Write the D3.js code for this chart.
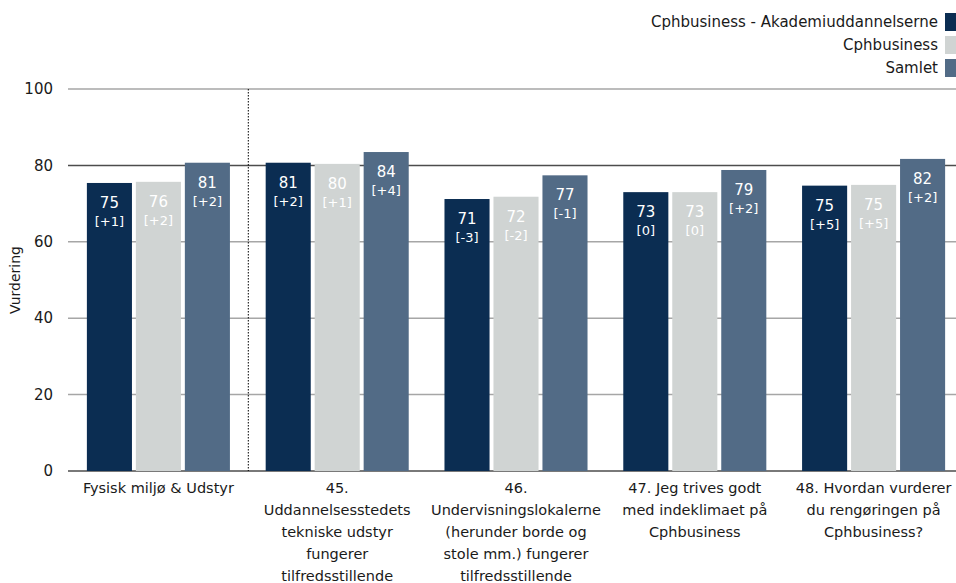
<!DOCTYPE html>
<html lang="da">
<head>
<meta charset="UTF-8">
<script src="https://d3js.org/d3.v7.min.js"></script>
<title>Vurdering</title>
<style>
  body { margin: 0; background: #fff; }
  svg { font-family: Tahoma, "DejaVu Sans", sans-serif; }
  .grid line { stroke: #a6a6a6; stroke-width: 1.5px; }
  .grid line.dark { stroke: #4d4d4d; }
</style>
</head>
<body>
<div id="chart"></div>
<script>
// data
var categories = [
  ["Fysisk miljø & Udstyr"],
  ["45.", "Uddannelsesstedets", "tekniske udstyr", "fungerer", "tilfredsstillende"],
  ["46.", "Undervisningslokalerne", "(herunder borde og", "stole mm.) fungerer", "tilfredsstillende"],
  ["47. Jeg trives godt", "med indeklimaet på", "Cphbusiness"],
  ["48. Hvordan vurderer", "du rengøringen på", "Cphbusiness?"]
];
var series = ["Cphbusiness - Akademiuddannelserne", "Cphbusiness", "Samlet"];
var colors = ["#0b2d52", "#d0d4d3", "#526b86"];
var akademi = [75.4, 80.7, 71.2, 73.0, 74.7];
var cph     = [75.7, 80.4, 71.8, 73.0, 74.9];
var samlet  = [80.7, 83.5, 77.4, 78.8, 81.7];
var akademiDiff = ["+1", "+2", "-3", "0", "+5"];
var cphDiff     = ["+2", "+1", "-2", "0", "+5"];
var samletDiff  = ["+2", "+4", "-1", "+2", "+2"];
var yTicks = [0, 20, 40, 60, 80, 100];

var values = [akademi, cph, samlet];
var diffs = [akademiDiff, cphDiff, samletDiff];

var W = 956, H = 583;
var svg = d3.select("#chart").append("svg").attr("width", W).attr("height", H);

var x0 = d3.scaleBand().domain(d3.range(categories.length)).range([69, 963]).padding(0);
var bw = x0.bandwidth();
var x1 = d3.scaleBand().domain(d3.range(series.length)).range([0.1 * bw, 0.9 * bw]).paddingInner(0.08);
var y = d3.scaleLinear().domain([0, 100]).range([471, 89]);

// gridlines
var grid = svg.append("g").attr("class", "grid");
grid.selectAll("line").data(yTicks).join("line")
  .attr("x1", 68).attr("x2", W)
  .attr("y1", d => y(d)).attr("y2", d => y(d))
  .attr("class", d => (d === 0 || d === 80) ? "dark" : null);

// y axis labels
svg.append("g").selectAll("text").data(yTicks).join("text")
  .attr("x", 53).attr("y", d => y(d)).attr("dy", "0.35em")
  .attr("text-anchor", "end").attr("font-size", 15).attr("fill", "#1a1a1a")
  .text(d => d);

svg.append("text")
  .attr("transform", "translate(20," + (y(50)) + ") rotate(-90)")
  .attr("text-anchor", "middle").attr("font-size", 14).attr("fill", "#1a1a1a")
  .text("Vurdering");

// separator
svg.append("line")
  .attr("x1", x0(1) + 0.5).attr("x2", x0(1) + 0.5)
  .attr("y1", y(100)).attr("y2", y(0))
  .attr("stroke", "#000").attr("stroke-width", 1).attr("stroke-dasharray", "1.5,1.5");

// bars
var groups = svg.append("g").selectAll("g").data(categories).join("g")
  .attr("transform", (d, i) => "translate(" + x0(i) + ",0)");

groups.each(function(c, ci) {
  var g = d3.select(this);
  series.forEach(function(s, si) {
    var v = values[si][ci];
    var bx = x1(si);
    g.append("rect")
      .attr("x", bx).attr("width", x1.bandwidth())
      .attr("y", y(v)).attr("height", y(0) - y(v))
      .attr("fill", colors[si]);
    g.append("text")
      .attr("x", bx + x1.bandwidth() / 2).attr("y", y(v) + 25)
      .attr("text-anchor", "middle").attr("font-size", 15).attr("fill", "#fff")
      .text(Math.round(v));
    g.append("text")
      .attr("x", bx + x1.bandwidth() / 2).attr("y", y(v) + 43)
      .attr("text-anchor", "middle").attr("font-size", 13).attr("fill", "#fff")
      .text("[" + diffs[si][ci] + "]");
  });
  // category label
  var t = g.append("text")
    .attr("text-anchor", "middle").attr("font-size", 14.5).attr("fill", "#1a1a1a");
  c.forEach(function(line, li) {
    t.append("tspan").attr("x", bw / 2).attr("y", 493 + li * 22).text(line);
  });
});

// legend
var leg = svg.append("g").selectAll("g").data(series).join("g")
  .attr("transform", (d, i) => "translate(0," + (22 + i * 23) + ")");
leg.append("rect").attr("x", 945).attr("y", -9).attr("width", 12).attr("height", 18)
  .attr("fill", (d, i) => colors[i]);
leg.append("text").attr("x", 938).attr("dy", "0.35em").attr("text-anchor", "end")
  .attr("font-size", 15).attr("fill", "#1a1a1a").text(d => d);
</script>
</body>
</html>
